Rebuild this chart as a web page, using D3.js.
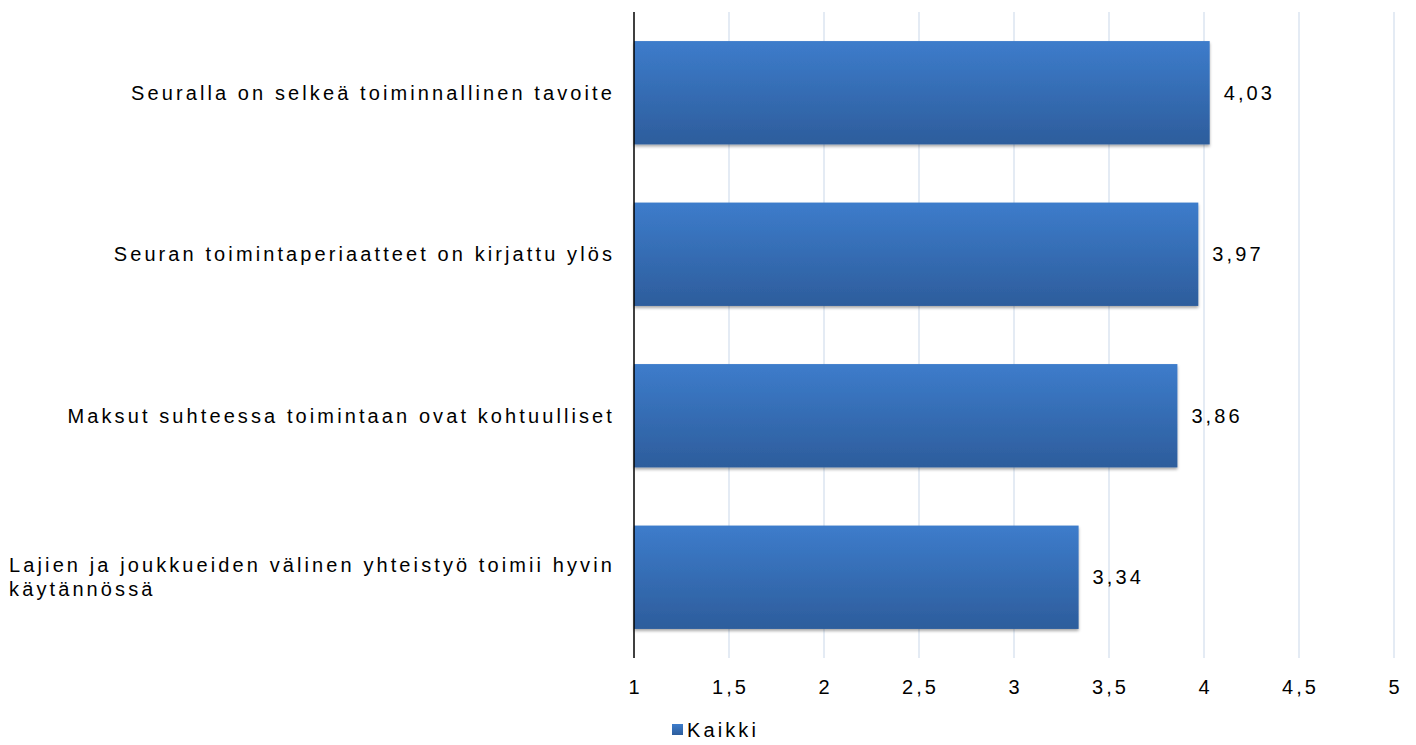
<!DOCTYPE html>
<html>
<head>
<meta charset="utf-8">
<script src="https://cdn.jsdelivr.net/npm/d3@7"></script>
<style>
  body { margin: 0; background: #fff; }
  text { font-family: "Liberation Sans", Arial, sans-serif; font-size: 20px; letter-spacing: 3.1px; fill: #000; }
</style>
</head>
<body>
<svg id="chart" width="1416" height="745"></svg>
<script>
// data
var categories = [
  "Seuralla on selkeä toiminnallinen tavoite",
  "Seuran toimintaperiaatteet on kirjattu ylös",
  "Maksut suhteessa toimintaan ovat kohtuulliset",
  "Lajien ja joukkueiden välinen yhteistyö toimii hyvin käytännössä"
]
var values = [4.03, 3.97, 3.86, 3.34]
var tickValues = [1, 1.5, 2, 2.5, 3, 3.5, 4, 4.5, 5]
var seriesName = "Kaikki"

var svg = d3.select("#chart")
var plot = {left: 634, right: 1394, top: 12, bottom: 658}

var fmt = d => d3.format("")(d).replace(".", ",")

var x = d3.scaleLinear().domain([1, 5]).range([plot.left, plot.right])
var y = d3.scaleBand().domain(categories).range([plot.top, plot.bottom])
  .paddingInner(0.36).paddingOuter(0.18)

var defs = svg.append("defs")
var grad = defs.append("linearGradient").attr("id", "barGrad")
  .attr("x1", 0).attr("y1", 0).attr("x2", 0).attr("y2", 1)
grad.append("stop").attr("offset", "0%").attr("stop-color", "#3d7ccb")
grad.append("stop").attr("offset", "100%").attr("stop-color", "#2d5d9c")

var shadow = defs.append("filter").attr("id", "shadow")
  .attr("x", "-5%").attr("y", "-10%").attr("width", "110%").attr("height", "130%")
shadow.append("feDropShadow").attr("dx", 0).attr("dy", 2).attr("stdDeviation", 1.5)
  .attr("flood-color", "#000").attr("flood-opacity", 0.35)

// gridlines
svg.append("g").selectAll("line").data(tickValues.slice(1)).enter().append("line")
  .attr("x1", d => x(d)).attr("x2", d => x(d))
  .attr("y1", plot.top).attr("y2", plot.bottom)
  .attr("stroke", "#dbe4f0").attr("stroke-width", 1.5)

// bars
svg.append("g").selectAll("rect").data(values).enter().append("rect")
  .attr("x", x(1))
  .attr("y", (d, i) => y(categories[i]))
  .attr("width", d => x(d) - x(1))
  .attr("height", y.bandwidth())
  .attr("fill", "url(#barGrad)")
  .attr("filter", "url(#shadow)")

// value labels
svg.append("g").selectAll("text").data(values).enter().append("text")
  .attr("x", d => x(d) + 14)
  .attr("y", (d, i) => y(categories[i]) + y.bandwidth() / 2)
  .attr("dy", "0.35em")
  .text(d => d3.format(".2f")(d).replace(".", ","))

// vertical axis line
svg.append("line")
  .attr("x1", plot.left).attr("x2", plot.left)
  .attr("y1", plot.top).attr("y2", plot.bottom)
  .attr("stroke", "#000").attr("stroke-width", 1.5)

// x tick labels
svg.append("g").selectAll("text").data(tickValues).enter().append("text")
  .attr("x", d => x(d) + 1.5)
  .attr("y", 694)
  .attr("text-anchor", "middle")
  .text(fmt)

// category labels (wrap long ones, block right aligned, lines left aligned)
var labelRight = 615
categories.forEach(function(cat, i) {
  var lines = cat.length > 50 ? [cat.replace(/ käytännössä$/, ""), "käytännössä"] : [cat]
  var g = svg.append("g")
  var cy = y(cat) + y.bandwidth() / 2
  var lh = 24
  var texts = lines.map(function(l, j) {
    return g.append("text")
      .attr("y", cy + (j - (lines.length - 1) / 2) * lh)
      .attr("dy", "0.35em")
      .text(l)
  })
  var maxW = d3.max(texts, t => t.node().getComputedTextLength())
  texts.forEach(t => t.attr("x", labelRight - maxW))
})

// legend
svg.append("rect").attr("x", 672).attr("y", 724).attr("width", 11).attr("height", 11)
  .attr("fill", "url(#barGrad)")
svg.append("text").attr("x", 687).attr("y", 730).attr("dy", "0.35em").text(seriesName)
</script>
</body>
</html>
